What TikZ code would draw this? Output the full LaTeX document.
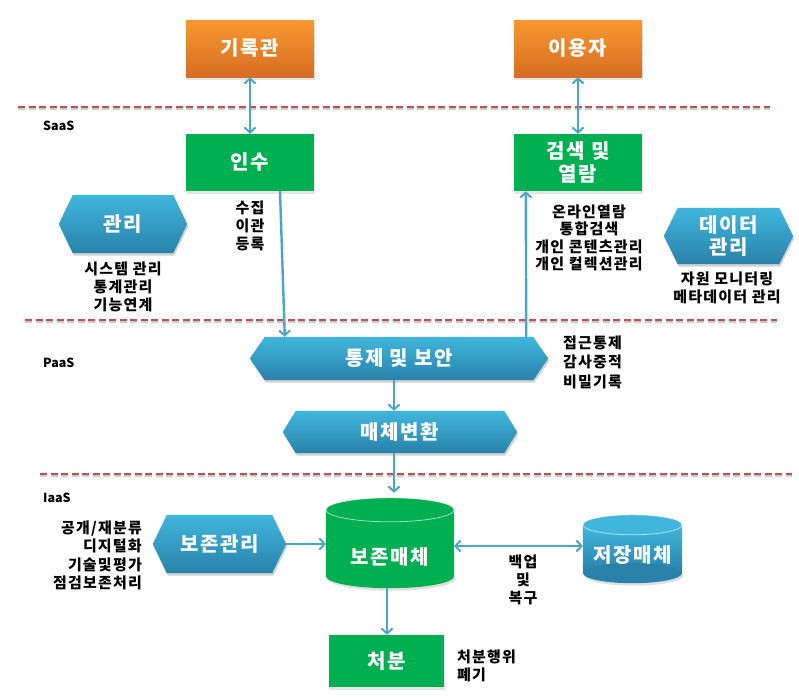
\documentclass[tikz,border=0pt]{standalone}
\usepackage{fontspec}
\setmainfont{Noto Sans CJK KR}[LetterSpace=8]
\newfontfamily\plainfont{Noto Sans CJK KR}
\usetikzlibrary{arrows.meta,calc,backgrounds,shadows}
\definecolor{orT}{HTML}{F8972F}
\definecolor{orB}{HTML}{D66E24}
\definecolor{grn}{HTML}{00B050}
\definecolor{blT}{HTML}{41B6DC}
\definecolor{blB}{HTML}{2882AA}
\definecolor{arr}{HTML}{4BA6C6}
\definecolor{dsh}{HTML}{C0504D}
\newcommand\hexfig[4]{% node, indent, offset, style
  \path[#4] ($(#1.west)+(#3)$) -- ($(#1.north west)+(#2,0)+(#3)$) -- ($(#1.north east)+(-#2,0)+(#3)$)
    -- ($(#1.east)+(#3)$) -- ($(#1.south east)+(-#2,0)+(#3)$) -- ($(#1.south west)+(#2,0)+(#3)$) -- cycle;}
\newcommand\cylfig[5]{% node, rx, ry, top colour, bottom colour
  \shade[top color=#4, bottom color=#5] ($(#1.north west)+(0,#3)$) rectangle ($(#1.south east)+(0,-#3)$);
  \fill[#5] ($(#1.south)+(0,-#3)$) ellipse[x radius=#2pt, y radius=#3pt];
  \fill[#4] ($(#1.north)+(0,#3)$) ellipse[x radius=#2pt, y radius=#3pt];
  \draw[white, opacity=0.6, line width=0.8pt] ($(#1.north)+(0,#3)$) ellipse[x radius=#2pt, y radius=#3pt];}
\begin{document}
\begin{tikzpicture}[x=1pt,y=-1pt,
  box/.style={rectangle, inner sep=0pt, text=white, font=\fontsize{20}{23}\selectfont\bfseries, align=center},
  shd/.style={drop shadow={shadow xshift=1pt, shadow yshift=-2.5pt, opacity=0.2}},
  orbox/.style={box, shd, top color=orT, bottom color=orB, minimum width=128pt, minimum height=57pt},
  grbox/.style={box, shd, fill=grn},
  hexnode/.style={box},
  lbl/.style={font=\fontsize{15}{18}\selectfont\bfseries, align=center, inner sep=0pt},
  layer/.style={font=\plainfont\fontsize{12.5}{15}\selectfont\bfseries, anchor=west, inner sep=0pt},
  tip/.tip={Straight Barb[length=5pt,width=11pt,line width=2pt]},
  conn/.style={draw=arr, line width=2.4pt, -tip},
  biconn/.style={draw=arr, line width=2.4pt, tip-tip},
  sep/.style={draw=dsh, line width=2pt, dash pattern=on 7pt off 3.5pt},
]
\useasboundingbox (0,0) rectangle (799,696);

% separators
\draw[gray!40, line width=2pt, dash pattern=on 7pt off 3.5pt] (18,108.5) -- (770,108.5);
\draw[sep] (18,107) -- (770,107);
\draw[gray!40, line width=2pt, dash pattern=on 7pt off 3.5pt] (25,321.5) -- (777,321.5);
\draw[sep] (25,320) -- (777,320);
\draw[gray!40, line width=2pt, dash pattern=on 7pt off 3.5pt] (40,475.5) -- (792,475.5);
\draw[sep] (40,474) -- (792,474);

% layer labels
\node[layer] (saas) at (43,126) {SaaS};
\node[layer] (paas) at (43,363) {PaaS};
\node[layer] (iaas) at (43,498) {IaaS};

% boxes
\node[orbox] (arch) at (250,48.5) {기록관};
\node[orbox] (user) at (578,48.5) {이용자};
\node[grbox, minimum width=128pt, minimum height=57pt] (acq) at (250,162.5) {인수};
\node[grbox, minimum width=128pt, minimum height=57pt] (srch) at (578,162.5) {검색 및\\열람};
\node[grbox, minimum width=115pt, minimum height=52pt] (disp) at (386.5,661) {처분};

% hexagon nodes
\node[hexnode, minimum width=128pt, minimum height=58pt] (mgmt) at (123,224) {관리};
\node[hexnode, minimum width=129pt, minimum height=56pt, font=\fontsize{20}{22}\selectfont\bfseries] (dmgmt) at (728.5,236) {데이터\\관리};
\node[hexnode, minimum width=298pt, minimum height=43pt] (ctl) at (399,358.5) {통제 및 보안};
\node[hexnode, minimum width=234pt, minimum height=42pt] (conv) at (400,432) {매체변환};
\node[hexnode, minimum width=133pt, minimum height=58pt] (pres) at (219.5,544) {보존관리};

% cylinders
\node[box, minimum width=128pt, minimum height=90pt] (pm) at (390,543) {};
\node[box] (pmt) at ($(pm.center)+(0,14)$) {보존매체};
\node[box, minimum width=99pt, minimum height=68pt] (sm) at (632.5,549) {};
\node[box] (smt) at ($(sm.center)+(0,6)$) {저장매체};

\begin{pgfonlayer}{background}
  \fill[white] (0,0) rectangle (799,696);
  \foreach \n/\i in {mgmt/14, dmgmt/14, ctl/15, conv/13, pres/14}{
    \hexfig{\n}{\i}{1,2.5}{fill=black, opacity=0.18}
    \hexfig{\n}{\i}{0,0}{top color=blT, bottom color=blB}
  }
  \fill[black, opacity=0.12] ($(pm.south)+(1.5,-9.5)$) ellipse[x radius=64pt, y radius=12pt];
  \cylfig{pm}{64}{12}{grn}{grn}
  \fill[black, opacity=0.12] ($(sm.south)+(1.5,-7.5)$) ellipse[x radius=49.5pt, y radius=10pt];
  \cylfig{sm}{49.5}{10}{blT}{blB}
\end{pgfonlayer}

% annotation texts
\node[lbl] (t1) at (250,226) {수집\\이관\\등록};
\node[lbl] (t2) at (123,287) {시스템 관리\\통계관리\\기능연계};
\node[lbl, font=\fontsize{15}{17.3}\selectfont\bfseries] (t3) at (589,238) {온라인열람\\통합검색\\개인 콘텐츠관리\\개인 컬렉션관리};
\node[lbl] (t4) at (727,288) {자원 모니터링\\메타데이터 관리};
\node[lbl, align=left, anchor=west, font=\fontsize{15}{19.5}\selectfont\bfseries] (t5) at (563,362) {접근통제\\감사중적\\비밀기록};
\node[lbl, align=right, anchor=east, font=\fontsize{15}{18.3}\selectfont\bfseries] (t6) at (142,555.5) {공개/재분류\\디지털화\\기술및평가\\점검보존처리};
\node[lbl] (t7) at (523,580) {백업\\및\\복구};
\node[lbl, align=left, anchor=west] (t8) at (457,666) {처분행위\\폐기};

% connectors
\draw[biconn] (arch) -- (acq);
\draw[biconn] (user) -- (srch);
\draw[conn] ($(acq.south)+(30,0)$) -- ($(ctl.north west)+(35,0)$);
\draw[conn] ($(ctl.north east)+(-22,0)$) -- ($(srch.south west)+(12,0)$);
\draw[conn] ($(ctl.south)+(-5,0)$) -- ($(conv.north)+(-6,0)$);
\draw[conn] ($(conv.south)+(-6,0)$) -- ($(pm.north)+(4,-5)$);
\draw[conn] (pres.east) -- ($(pm.west)+(0,1)$);
\draw[biconn] ($(pm.east)+(0,3)$) -- ($(sm.west)+(0,-3)$);
\draw[conn] ($(pm.south)+(-3,0)$) -- ($(disp.north)+(0.5,0)$);
\end{tikzpicture}
\end{document}
